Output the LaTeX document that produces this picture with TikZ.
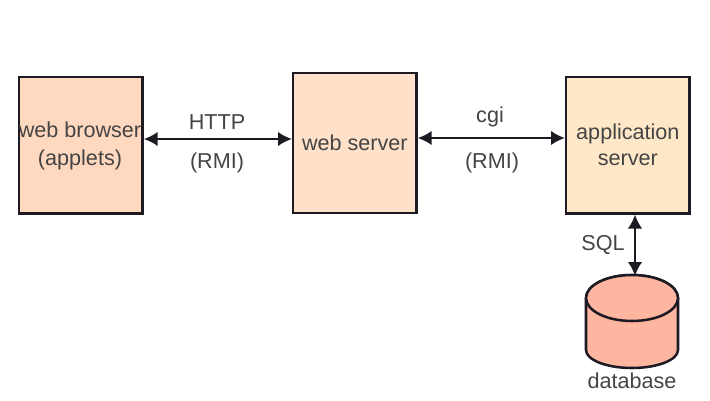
\documentclass[tikz,border=0pt]{standalone}
\usepackage{fontspec}
\setmainfont{Liberation Sans}
\usetikzlibrary{arrows.meta}
\definecolor{cA}{HTML}{FFD8C0}
\definecolor{cB}{HTML}{FFE0C8}
\definecolor{cC}{HTML}{FFE8C8}
\definecolor{cD}{HTML}{FFB6A0}
\definecolor{ink}{HTML}{1E1A24}
\definecolor{lbl}{HTML}{444444}
\tikzset{x=0.75pt,y=-0.75pt,
 box/.style={draw=ink,line width=1.8pt,anchor=north west,inner sep=0pt,text=lbl,align=center,font=\fontsize{16.2}{19.5}\selectfont},
 lab/.style={text=lbl,inner sep=0pt,font=\fontsize{16.2}{19}\selectfont},
 dbl/.style={draw=ink,line width=2pt,{Latex[length=10.5pt,width=11pt]}-{Latex[length=10.5pt,width=11pt]}}}
\begin{document}
\begin{tikzpicture}
\useasboundingbox (0,0) rectangle (710,400);
\node[box,fill=cA,minimum width=92.5pt,minimum height=102.5pt] (browser) at (18,75.5) {};
\node[lab,align=center,font=\fontsize{16.2}{21}\selectfont] (browsertext) at (80,145.5) {web browser\\(applets)};
\node[box,fill=cB,minimum width=92.5pt,minimum height=105pt] (server) at (292,72) {web server};
\node[box,fill=cC,minimum width=92.5pt,minimum height=102.5pt] (app) at (565,75.5) {application\\server};
\coordinate (ya) at (0,139);
\coordinate (yb) at (0,138);
\coordinate (dbtop) at (635,276);
\draw[ink,fill=cD,line width=1.9pt] (586,298) arc[start angle=180,end angle=360,x radius=46,y radius=23] -- (678,350) arc[start angle=0,end angle=180,x radius=46,y radius=18] -- cycle;
\draw[ink,fill=cD,line width=1.9pt] (632,298) ellipse[x radius=46,y radius=23];
\node[lab] (dbl) at (632,381) {database};
\draw[dbl] (browser.east |- ya) -- (server.west |- ya);
\draw[dbl] (server.east |- yb) -- (app.west |- yb);
\draw[dbl] (app.south -| dbtop) -- (dbtop);
\node[lab] (http) at (217,122) {HTTP};
\node[lab] (rmi1) at (217,163) {(RMI)};
\node[lab] (cgi) at (490,117) {cgi};
\node[lab] (rmi2) at (492,163) {(RMI)};
\node[lab] (sql) at (603,245) {SQL};
\end{tikzpicture}
\end{document}
